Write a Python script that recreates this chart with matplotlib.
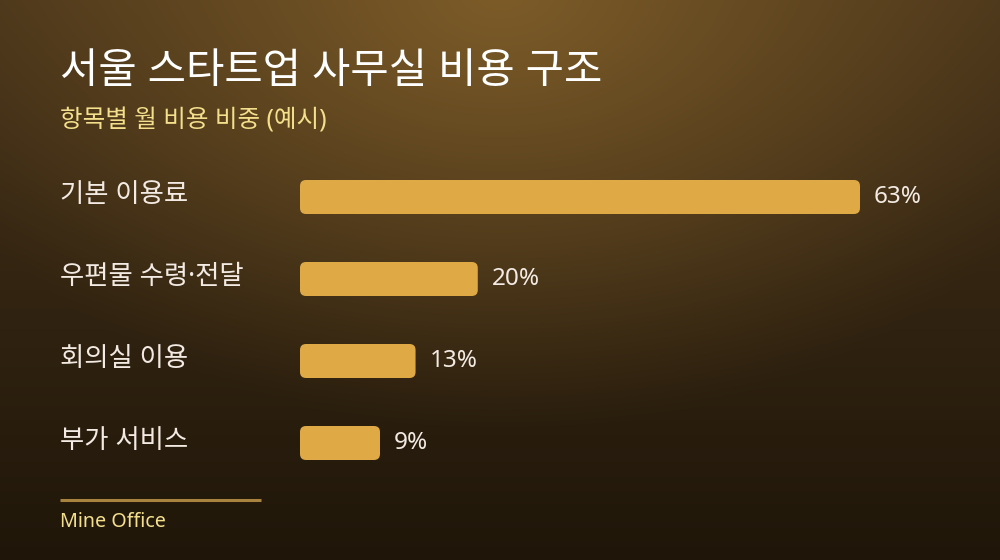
import numpy as np
import matplotlib.pyplot as plt
from matplotlib.patches import FancyBboxPatch
from matplotlib.colors import to_rgb
from matplotlib.transforms import blended_transform_factory

plt.rcParams['font.family'] = ['Noto Sans', 'Noto Sans CJK KR', 'DejaVu Sans']

#-----------Data-------------

categories = ['기본 이용료', '우편물 수령·전달', '회의실 이용', '부가 서비스']
shares     = [63, 20, 13, 9]  # %

title    = '서울 스타트업 사무실 비용 구조'
subtitle = '항목별 월 비용 비중 (예시)'
source   = 'Mine Office'

#-----------Colours-------------

bar_color   = '#dfa946'
label_color = '#f3ebe3'
accent      = '#f4e08c'
rule_color  = '#a8823f'

#-----------Figure-------------

W, H = 1000, 560
fig = plt.figure(figsize=(W / 100, H / 100), dpi=100)

#-----------Background gradient-------------

bg = fig.add_axes([0, 0, 1, 1])
yy, xx = np.mgrid[0:H, 0:W]
top    = np.array(to_rgb('#47331a'))
bottom = np.array(to_rgb('#1f1609'))
glow   = np.array(to_rgb('#7d5c28'))
v = (yy / H)[..., None]
base = top * (1 - v) + bottom * v
r = np.sqrt(((xx - 500) / 620.0) ** 2 + ((yy + 10) / 440.0) ** 2)
w = np.clip(1 - r, 0, 1)[..., None] ** 1.1
img = base * (1 - w) + glow * w
bg.imshow(img, aspect='auto', extent=(0, W, H, 0))
bg.set_xlim(0, W)
bg.set_ylim(H, 0)
bg.axis('off')

#-----------Titles-------------

fig.text(60 / W, 1 - 72 / H, title, color='white', fontsize=30,
         fontweight='medium', va='center', ha='left')
fig.text(60 / W, 1 - 121 / H, subtitle, color=accent, fontsize=17.7,
         va='center', ha='left')

#-----------Bars-------------

px_per_pct = 560 / 63
xmax = 70
ax = fig.add_axes([300 / W, 1 - 484 / H, xmax * px_per_pct / W, 328 / H])
ax.set_xlim(0, xmax)
ax.set_ylim(len(categories) - 0.5, -0.5)
ax.axis('off')

bar_h = 34 / 82
rad_x = 6 / px_per_pct
aspect = (6 / 82) / rad_x
lab_tr = blended_transform_factory(fig.transFigure, ax.transData)

for i, (cat, val) in enumerate(zip(categories, shares)):
    box = FancyBboxPatch((0, i - bar_h / 2), val, bar_h,
                         boxstyle=f'round,pad=0,rounding_size={rad_x}',
                         mutation_aspect=aspect, fc=bar_color, ec='none')
    ax.add_patch(box)
    ax.text(val + 14 / px_per_pct, i, f'{val}%', color=label_color,
            fontsize=17.5, va='center', ha='left')
    ax.text(60 / W, i - 0.02, cat, color=label_color, fontsize=19,
            va='center', ha='left', transform=lab_tr)

#-----------Footer-------------

fig.add_artist(plt.Line2D([60 / W, 261 / W], [1 - 500 / H, 1 - 500 / H],
                          color=rule_color, linewidth=2.2,
                          solid_capstyle='butt',
                          transform=fig.transFigure))
fig.text(60 / W, 1 - 522 / H, source, color=accent, fontsize=14.2,
         va='center', ha='left')

fig.savefig('out.png', dpi=100)
